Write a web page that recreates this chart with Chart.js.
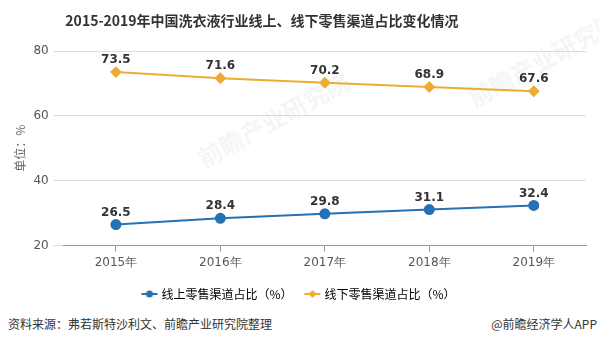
<!DOCTYPE html>
<html>
<head>
<meta charset="utf-8">
<script src="https://cdn.jsdelivr.net/npm/chart.js@4"></script>
<style>
  html, body { margin: 0; padding: 0; background: #fff; }
  #wrap { position: relative; width: 599px; height: 344px; }
  #title { position: absolute; left: 0; width: 524px; top: 10px; text-align: center;
    font: bold 14px "Noto Sans CJK SC", sans-serif; color: #333; }
  #src { position: absolute; left: 8px; top: 315px; font: 12px "Noto Sans CJK SC", sans-serif; color: #333; }
  #app { position: absolute; right: 2px; top: 315px; font: 12px "Noto Sans CJK SC", sans-serif; color: #333; }
  canvas { position: absolute; left: 0; top: 0; }
</style>
</head>
<body>
<div id="wrap">
  <canvas id="chart" width="599" height="310"></canvas>
  <div id="title">2015-2019年中国洗衣液行业线上、线下零售渠道占比变化情况</div>
  <div id="src">资料来源：弗若斯特沙利文、前瞻产业研究院整理</div>
  <div id="app">@前瞻经济学人APP</div>
</div>
<script>
const years = ['2015年', '2016年', '2017年', '2018年', '2019年']
const online = [26.5, 28.4, 29.8, 31.1, 32.4]
const offline = [73.5, 71.6, 70.2, 68.9, 67.6]
const yTicks = [20, 40, 60, 80]

const blue = '#2472b5'
const gold = '#eeaa33'

// small legend glyph: a short line with the series marker on it
function legendIcon(color, diamond) {
  const c = document.createElement('canvas')
  c.width = 18
  c.height = 10
  const g = c.getContext('2d')
  g.strokeStyle = color
  g.fillStyle = color
  g.lineWidth = 2
  g.beginPath()
  g.moveTo(1, 5)
  g.lineTo(17, 5)
  g.stroke()
  g.beginPath()
  if (diamond) {
    g.moveTo(9, 1); g.lineTo(13, 5); g.lineTo(9, 9); g.lineTo(5, 5)
  } else {
    g.arc(9, 5, 3.5, 0, Math.PI * 2)
  }
  g.closePath()
  g.fill()
  return c
}

// faint logo text behind the lines
const watermark = {
  id: 'watermark',
  beforeDatasetsDraw(chart) {
    const ctx = chart.ctx
    ctx.save()
    ctx.fillStyle = 'rgba(200,207,220,0.2)'
    ctx.font = 'bold 24px "Noto Sans CJK SC"'
    ;[[200, 160], [470, 100]].forEach(([x, y]) => {
      ctx.save()
      ctx.translate(x, y)
      ctx.rotate(-0.5)
      ctx.fillText('前瞻产业研究院', 0, 0)
      ctx.restore()
    })
    ctx.restore()
  }
}

// numbers above each point
const pointLabels = {
  id: 'pointLabels',
  afterDatasetsDraw(chart) {
    const ctx = chart.ctx
    ctx.save()
    ctx.font = 'bold 12px "DejaVu Sans"'
    ctx.fillStyle = '#333'
    ctx.textAlign = 'center'
    ctx.textBaseline = 'middle'
    chart.data.datasets.forEach((ds, i) => {
      chart.getDatasetMeta(i).data.forEach((pt, j) => {
        ctx.fillText(ds.data[j].toFixed(1), pt.x, pt.y - 12)
      })
    })
    ctx.restore()
  }
}

new Chart(document.getElementById('chart'), {
  type: 'line',
  data: {
    labels: years,
    datasets: [
      {
        label: '线上零售渠道占比（%）',
        data: online,
        borderColor: blue,
        backgroundColor: blue,
        borderWidth: 2,
        pointStyle: 'circle',
        pointRadius: 4.5,
        pointHoverRadius: 4.5,
        icon: legendIcon(blue, false)
      },
      {
        label: '线下零售渠道占比（%）',
        data: offline,
        borderColor: gold,
        backgroundColor: gold,
        borderWidth: 2,
        pointStyle: 'rectRot',
        pointRadius: 4.5,
        pointHoverRadius: 4.5,
        icon: legendIcon(gold, true)
      }
    ]
  },
  options: {
    responsive: false,
    animation: false,
    layout: { padding: { top: 51, right: 13, left: 13, bottom: 0 } },
    plugins: {
      tooltip: { enabled: false },
      legend: {
        position: 'bottom',
        labels: {
          usePointStyle: true,
          padding: 14,
          color: '#333',
          font: { family: '"Noto Sans CJK SC"', size: 12 },
          generateLabels(chart) {
            return chart.data.datasets.map((ds, i) => ({
              text: ds.label,
              fillStyle: ds.backgroundColor,
              strokeStyle: ds.borderColor,
              lineWidth: 0,
              pointStyle: ds.icon,
              datasetIndex: i
            }))
          }
        }
      }
    },
    scales: {
      x: {
        offset: true,
        grid: { offset: false, drawOnChartArea: false, tickLength: 6, color: '#999' },
        border: { color: '#999' },
        ticks: { color: '#555', font: { family: '"DejaVu Sans"', size: 12 }, padding: 4 }
      },
      y: {
        min: 20,
        max: 80,
        afterBuildTicks(axis) { axis.ticks = yTicks.map(v => ({ value: v })) },
        grid: { color: '#dcdcdc', tickLength: 10 },
        border: { display: false },
        ticks: { color: '#555', font: { family: '"DejaVu Sans"', size: 12 }, padding: 5 },
        title: {
          display: true,
          text: '单位：%',
          color: '#666',
          font: { family: '"Noto Sans CJK SC"', size: 12 },
          padding: { top: 0, bottom: 1 }
        }
      }
    }
  },
  plugins: [watermark, pointLabels]
})
</script>
</body>
</html>
